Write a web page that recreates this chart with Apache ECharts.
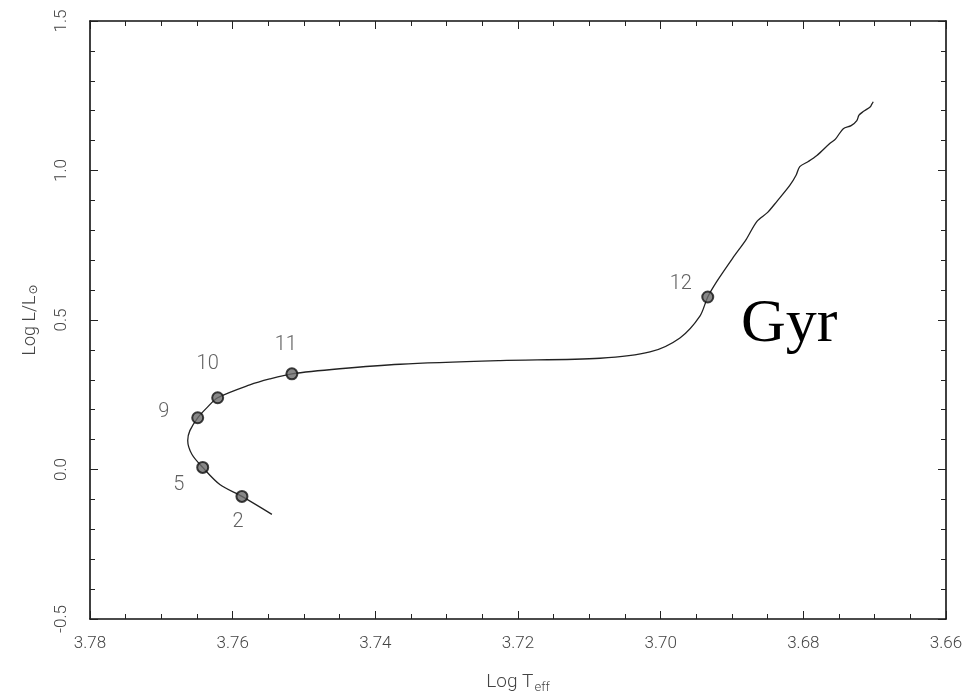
<!DOCTYPE html>
<html>
<head>
<meta charset="utf-8">
<script src="https://cdn.jsdelivr.net/npm/echarts@6/dist/echarts.min.js"></script>
<style>html,body{margin:0;padding:0;background:#fff}#c{width:966px;height:699px}</style>
</head>
<body>
<div id="c"></div>
<script>
// Track (log Teff, log L/Lsun)
var trackX = [3.7545, 3.7587, 3.7618, 3.7642, 3.7657, 3.7663, 3.7660, 3.7649, 3.7636, 3.7621, 3.7576, 3.7548, 3.7517, 3.7450, 3.7365, 3.7225, 3.7085, 3.7015, 3.6973, 3.6945, 3.6934, 3.6921, 3.6899, 3.6880, 3.6865, 3.6850, 3.6837, 3.6819, 3.6810, 3.6805, 3.6793, 3.6781, 3.6763, 3.6755, 3.6744, 3.6733, 3.6725, 3.6722, 3.6716, 3.6706, 3.6704, 3.6702];
var trackY = [-0.150, -0.090, -0.050, 0.007, 0.050, 0.097, 0.130, 0.173, 0.207, 0.240, 0.283, 0.303, 0.320, 0.337, 0.352, 0.364, 0.372, 0.393, 0.440, 0.513, 0.577, 0.630, 0.707, 0.770, 0.830, 0.860, 0.897, 0.950, 0.985, 1.013, 1.030, 1.050, 1.090, 1.105, 1.140, 1.150, 1.167, 1.185, 1.197, 1.213, 1.222, 1.230];
// Age markers (Gyr)
var ageLabels = ['2', '5', '9', '10', '11', '12'];
var ageX = [3.7587, 3.7642, 3.7649, 3.7621, 3.7517, 3.6934];
var ageY = [-0.090, 0.007, 0.173, 0.240, 0.320, 0.577];
// Axis ticks
var xTicks = [3.78, 3.76, 3.74, 3.72, 3.70, 3.68, 3.66];
var yTicks = [-0.5, 0.0, 0.5, 1.0, 1.5];

var labelOffsets = {'2': [-4, 26], '5': [-24, 18], '9': [-34, -6], '10': [-10, -34], '11': [-6, -29], '12': [-27, -13]};

var lineData = trackX.map(function (x, i) { return [x, trackY[i]]; });
var ptData = ageX.map(function (x, i) {
  return {
    value: [x, ageY[i]],
    name: ageLabels[i],
    label: { show: true, formatter: ageLabels[i], position: 'inside', offset: labelOffsets[ageLabels[i]] }
  };
});

var labelFont = { color: '#444', fontFamily: 'Roboto', fontWeight: 300, fontSize: 17 };
var frameLine = { show: true, onZero: false, lineStyle: { color: '#111', width: 1.6 } };

var chart = echarts.init(document.getElementById('c'), null, { renderer: 'canvas' });
chart.setOption({
  backgroundColor: '#ffffff',
  animation: false,
  grid: { left: 90, right: 20, top: 21, bottom: 77 },
  xAxis: [{
    type: 'value', min: 3.66, max: 3.78, interval: 0.02, inverse: true,
    axisLine: frameLine,
    axisTick: { show: true, inside: true, length: 8, lineStyle: { color: '#222', width: 1 } },
    minorTick: { show: true, splitNumber: 4, length: 5, lineStyle: { color: '#222', width: 1 } },
    splitLine: { show: false },
    axisLabel: Object.assign({ margin: 16, formatter: function (v) {
      var m = xTicks.filter(function (t) { return Math.abs(t - v) < 1e-6; });
      return m.length ? m[0].toFixed(2) : '';
    } }, labelFont),
    name: '{a|Log T}{b|eff}', nameLocation: 'middle', nameGap: 52,
    nameTextStyle: { rich: {
      a: { fontSize: 19, color: '#444', fontFamily: 'Roboto', fontWeight: 300 },
      b: { fontSize: 13, color: '#444', fontFamily: 'Roboto', fontWeight: 300, padding: [10, 0, 0, 1] }
    } }
  }, {
    type: 'value', position: 'top', min: 3.66, max: 3.78, interval: 0.02, inverse: true,
    axisLine: frameLine,
    axisTick: { show: true, inside: true, length: 8, lineStyle: { color: '#222', width: 1 } },
    minorTick: { show: true, splitNumber: 4, length: 5, lineStyle: { color: '#222', width: 1 } },
    splitLine: { show: false }, axisLabel: { show: false }
  }],
  yAxis: [{
    type: 'value', min: -0.5, max: 1.5, interval: 0.5,
    axisLine: frameLine,
    axisTick: { show: true, inside: true, length: 8, lineStyle: { color: '#222', width: 1 } },
    minorTick: { show: true, splitNumber: 5, length: 5, lineStyle: { color: '#222', width: 1 } },
    splitLine: { show: false },
    axisLabel: Object.assign({ rotate: 90, margin: 20, formatter: function (v) {
      var m = yTicks.filter(function (t) { return Math.abs(t - v) < 1e-6; });
      return m.length ? m[0].toFixed(1) : '';
    } }, labelFont),
    name: '{a|Log L/L}{b|⊙}', nameLocation: 'middle', nameGap: 50, nameRotate: 90,
    nameTextStyle: { rich: {
      a: { fontSize: 18, color: '#444', fontFamily: 'Roboto', fontWeight: 300 },
      b: { fontSize: 12, color: '#444', fontFamily: 'DejaVu Sans', padding: [8, 0, 0, 1] }
    } }
  }, {
    type: 'value', position: 'right', min: -0.5, max: 1.5, interval: 0.5,
    axisLine: frameLine,
    axisTick: { show: true, inside: true, length: 8, lineStyle: { color: '#222', width: 1 } },
    minorTick: { show: true, splitNumber: 5, length: 5, lineStyle: { color: '#222', width: 1 } },
    splitLine: { show: false }, axisLabel: { show: false }
  }],
  series: [{
    type: 'line', data: lineData, smooth: 0.3, showSymbol: false,
    lineStyle: { color: '#222', width: 1.3 }, z: 2
  }, {
    type: 'scatter', data: ptData, symbolSize: 11,
    itemStyle: { color: '#6a6a6a', borderColor: '#111', borderWidth: 2 },
    label: { color: '#3a3a3a', fontFamily: 'Roboto', fontWeight: 300, fontSize: 20 },
    z: 3
  }],
  graphic: [{
    type: 'text', left: 741, top: 294,
    style: { text: 'Gyr', fill: '#000', font: '62px "Liberation Serif", serif' }
  }]
});
</script>
</body>
</html>
